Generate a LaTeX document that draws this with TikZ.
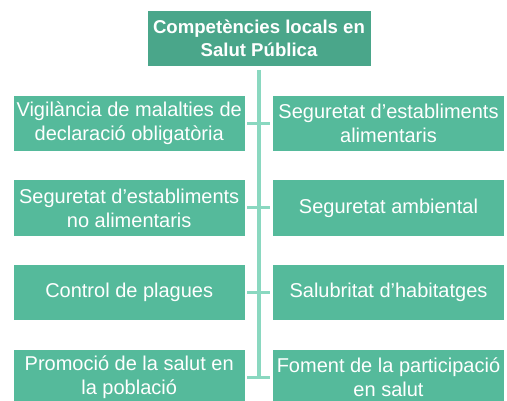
\documentclass[tikz,border=0pt]{standalone}
\usepackage{fontspec}
\setmainfont{Liberation Sans}
\definecolor{topgreen}{RGB}{74,166,138}
\definecolor{boxgreen}{RGB}{85,186,155}
\definecolor{linegreen}{RGB}{138,216,192}
\tikzset{
  itembox/.style={fill=boxgreen, draw=white, line width=0.6pt, minimum width=231.7pt, minimum height=56.5pt,
    inner sep=0pt, align=center, text=white, font=\fontsize{20}{24}\selectfont},
  titlebox/.style={fill=topgreen, draw=white, line width=0.6pt, minimum width=224pt, minimum height=56pt,
    inner sep=0pt, align=center, text=white, font=\fontsize{18.6}{23}\selectfont\bfseries},
  conn/.style={draw=linegreen, line width=3.5pt}
}
\begin{document}
\begin{tikzpicture}[x=1pt,y=-1pt]
\useasboundingbox (0,0) rectangle (507,401);
\node[titlebox] (top) at (259,38.7) {Competències locals en\\Salut Pública};
\node[itembox] (L1) at (129.2,123.4) {Vigilància de malalties de\\declaració obligatòria};
\node[itembox] (R1) at (388.5,123.4) {Seguretat d’establiments\\alimentaris};
\node[itembox] (L2) at (129.2,208) {Seguretat d’establiments\\no alimentaris};
\node[itembox] (R2) at (388.5,208) {Seguretat ambiental};
\node[itembox] (L3) at (129.2,292.4) {Control de plagues};
\node[itembox] (R3) at (388.5,292.4) {Salubritat d’habitatges};
\node[itembox] (L4) at (129.2,377.3) {Promoció de la salut en\\la població};
\node[itembox] (R4) at (388.5,377.3) {Foment de la participació\\en salut};
\coordinate (tend) at (259,379.05);
\draw[conn, shorten <=3pt] (top.south) -- (tend);
\foreach \i in {1,2,3,4}{
  \draw[conn, line width=3pt, shorten <=2pt, shorten >=2.5pt] (L\i.east) -- (R\i.west);
}
\end{tikzpicture}
\end{document}
